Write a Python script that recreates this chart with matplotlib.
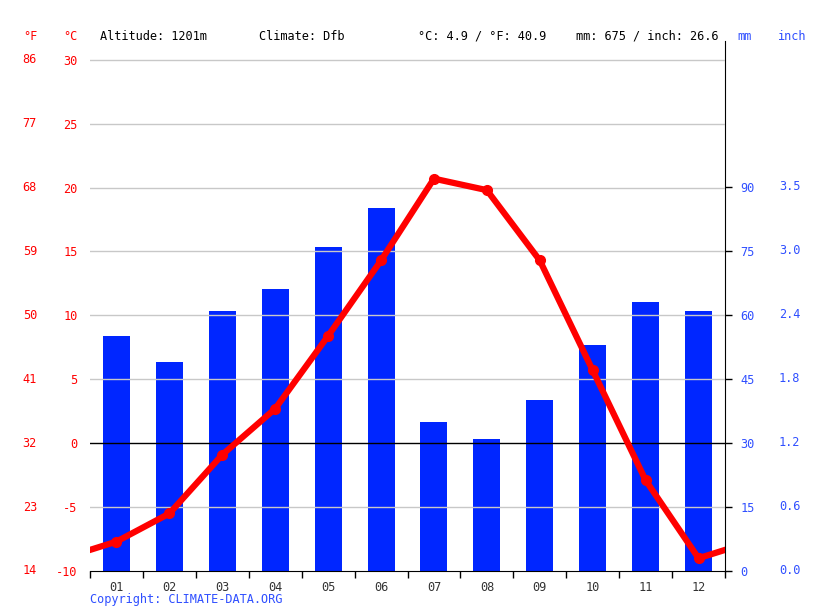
import numpy as np
import matplotlib.pyplot as plt
import matplotlib.transforms as mtransforms

plt.rcParams['font.family'] = 'DejaVu Sans Mono'

# ---- data ----
months = ['01', '02', '03', '04', '05', '06', '07', '08', '09', '10', '11', '12']
precip_mm = [55, 49, 61, 66, 76, 85, 35, 31, 40, 53, 63, 61]
temp_c = [-7.7, -5.5, -0.9, 2.7, 8.4, 14.3, 20.7, 19.8, 14.3, 5.7, -2.9, -9.0]
c_ticks = [-10, -5, 0, 5, 10, 15, 20, 25, 30]
f_labels = ['14', '23', '32', '41', '50', '59', '68', '77', '86']
mm_ticks = [0, 15, 30, 45, 60, 75, 90]
inch_labels = ['0.0', '0.6', '1.2', '1.8', '2.4', '3.0', '3.5']

RED = '#ff0000'
BLUE = '#0026ff'
LBLUE = '#2f4fff'
FS = 8.6
W, H = 815, 611

fig = plt.figure(figsize=(W / 100, H / 100), dpi=100)
left, right, top, bottom = 90, 725, 41, 571
ax = fig.add_axes([left / W, (H - bottom) / H, (right - left) / W, (bottom - top) / H])
ax2 = ax.twinx()

x = np.arange(1, 13)

# precipitation bars on the mm axis (drawn beneath temperature)
ax2.bar(x, precip_mm, width=0.51, color=BLUE, zorder=2)
ax2.set_ylim(0, 124.2)
ax2.set_yticks(mm_ticks)
ax2.set_yticklabels([str(v) for v in mm_ticks], color=LBLUE, fontsize=FS)
ax2.tick_params(axis='y', length=5, width=1, pad=6)
for v, lab in zip(mm_ticks, inch_labels):
    ax2.text(1.0 + 54 / (right - left), v, lab,
             transform=mtransforms.blended_transform_factory(ax2.transAxes, ax2.transData),
             ha='left', va='center', color=LBLUE, fontsize=FS)

# temperature axis
ax.set_ylim(-10, 31.47)
ax.set_xlim(0.5, 12.5)
ax.set_yticks(c_ticks)
ax.set_yticklabels([str(v) for v in c_ticks], color=RED, fontsize=FS)
ax.tick_params(axis='y', length=0, pad=9)
trans = mtransforms.blended_transform_factory(ax.transAxes, ax.transData)
for v, lab in zip(c_ticks, f_labels):
    ax.text(-53 / (right - left), v, lab, transform=trans, ha='right', va='center', color=RED, fontsize=FS)

for v in c_ticks:
    if v != 0 and v != -10:
        ax.axhline(v, color='#c8c8c8', lw=1, zorder=0)
ax.axhline(0, color='black', lw=1, zorder=1)

ax.set_xticks(x)
ax.set_xticklabels(months, color='#333333', fontsize=FS)
ax.set_xticks(np.arange(0.5, 13, 1), minor=True)
ax.tick_params(axis='x', which='major', length=0, pad=7)
ax.tick_params(axis='x', which='minor', length=5, width=1)

for a in (ax, ax2):
    a.spines['top'].set_visible(False)
    a.spines['left'].set_visible(False)
ax.spines['right'].set_visible(False)
ax2.spines['bottom'].set_visible(False)
ax2.spines['right'].set_color('black')
ax.spines['bottom'].set_color('black')

# temperature line on top, wrapping Dec -> Jan at the edges
ax.set_zorder(ax2.get_zorder() + 1)
ax.patch.set_visible(False)
xw = np.concatenate([[0], x, [13]])
tw = [temp_c[-1]] + temp_c + [temp_c[0]]
ax.plot(xw, tw, color=RED, lw=4.5, solid_capstyle='butt', zorder=4, clip_on=True)
ax.plot(x, temp_c, 'o', color=RED, ms=7, zorder=5)

# header texts
hy = (H - 36) / H
fig.text(30 / W, hy, '°F', color=RED, fontsize=FS, ha='center', va='center')
fig.text(70 / W, hy, '°C', color=RED, fontsize=FS, ha='center', va='center')
fig.text(100 / W, hy, 'Altitude: 1201m', color='black', fontsize=FS, ha='left', va='center')
fig.text(259 / W, hy, 'Climate: Dfb', color='black', fontsize=FS, ha='left', va='center')
fig.text(418 / W, hy, '°C: 4.9 / °F: 40.9', color='black', fontsize=FS, ha='left', va='center')
fig.text(576 / W, hy, 'mm: 675 / inch: 26.6', color='black', fontsize=FS, ha='left', va='center')
fig.text(745 / W, hy, 'mm', color=LBLUE, fontsize=FS, ha='center', va='center')
fig.text(792 / W, hy, 'inch', color=LBLUE, fontsize=FS, ha='center', va='center')
fig.text(90 / W, (H - 600) / H, 'Copyright: CLIMATE-DATA.ORG', color=LBLUE, fontsize=FS, ha='left', va='center')

fig.savefig('out.png', dpi=100)
